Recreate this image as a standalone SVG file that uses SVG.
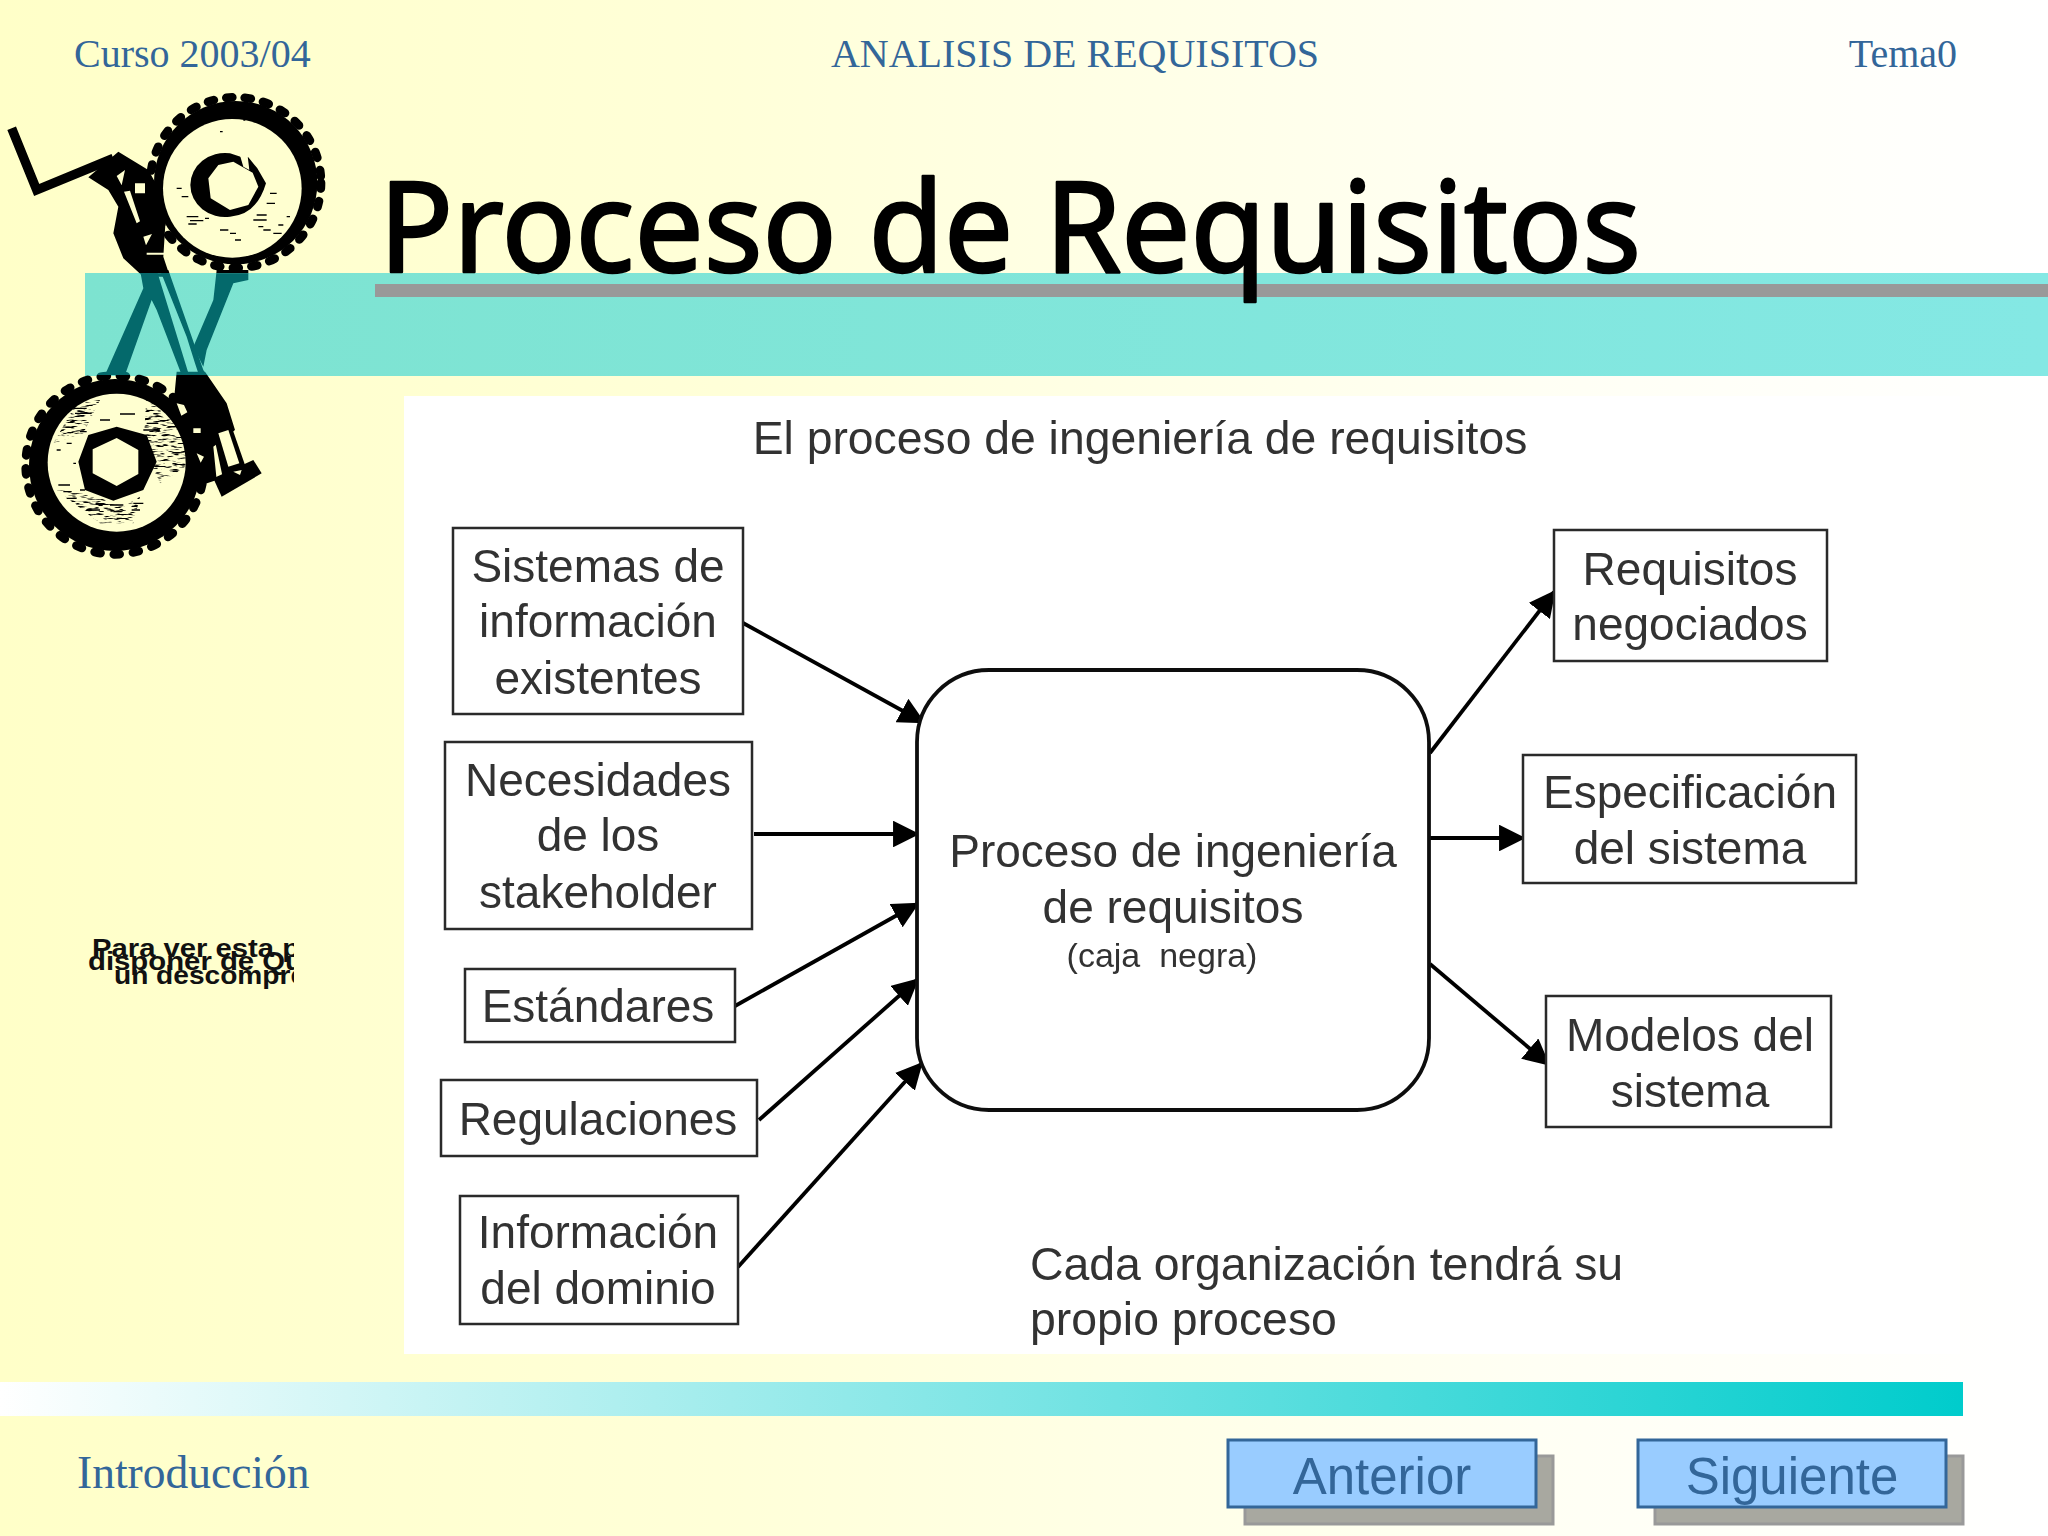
<svg xmlns="http://www.w3.org/2000/svg" width="2048" height="1536" viewBox="0 0 2048 1536">
<defs>
<linearGradient id="bg" x1="0" y1="0" x2="1" y2="0"><stop offset="0" stop-color="#ffffc8"/><stop offset=".35" stop-color="#ffffd8"/><stop offset=".75" stop-color="#fffff4"/><stop offset="1" stop-color="#ffffff"/></linearGradient>
<linearGradient id="band" x1="0" y1="0" x2="1" y2="0"><stop offset="0" stop-color="#7de3d0"/><stop offset="1" stop-color="#84e8e4"/></linearGradient>
<linearGradient id="foot" x1="0" y1="0" x2="1" y2="0"><stop offset="0" stop-color="#ffffff"/><stop offset="1" stop-color="#00cccc"/></linearGradient>
<marker id="ah" viewBox="0 0 10 10" refX="9" refY="5" markerWidth="7" markerHeight="7" orient="auto"><path d="M0 0L10 5L0 10Z" fill="#000"/></marker>
<filter id="soft" x="-2%" y="-2%" width="104%" height="104%"><feGaussianBlur stdDeviation="0.6"/></filter>
<filter id="speck" x="0" y="0" width="100%" height="100%"><feTurbulence type="fractalNoise" baseFrequency=".035 .16" numOctaves="2" seed="7"/><feColorMatrix values="0 0 0 0 0 0 0 0 0 0 0 0 0 0 0 6 0 0 0 -3.1"/><feComposite in2="SourceGraphic" operator="in"/></filter>
<clipPath id="inband"><rect x="0" y="610" width="1260" height="305"/></clipPath>
<clipPath id="outband"><path d="M0 0H1260V610H0ZM0 915H1260V1600H0Z"/></clipPath>
<clipPath id="qt"><rect x="80" y="930" width="214" height="70"/></clipPath>
<g id="blk">
<circle cx="707" cy="338" r="245" fill="currentColor"/>
<circle cx="707" cy="338" r="256" fill="none" stroke="currentColor" stroke-width="26" stroke-linecap="round" stroke-dasharray="18 38"/>
<circle cx="345" cy="1185" r="258" fill="currentColor"/>
<circle cx="345" cy="1185" r="268" fill="none" stroke="currentColor" stroke-width="26" stroke-linecap="round" stroke-dasharray="18 40"/>
<path fill="currentColor" d="M265 322L355 245L445 300L500 400L490 560L510 620L430 620L370 565L340 490L355 410L325 360Z"/>
<path fill="currentColor" d="M530 905L615 905L680 1000L705 1080L640 1130L650 1230L590 1250L570 1240L570 1100L520 1010Z"/>
<path fill="currentColor" d="M640 1225L760 1170L785 1210L665 1280Z"/>
<path fill="currentColor" d="M640 1090L695 1070L735 1185L670 1230Z"/>
<path fill="currentColor" d="M420 600L470 600L570 925L610 925L620 920L555 925L545 915L470 720L455 690L375 915L315 915L430 655Z"/>
<path fill="currentColor" d="M480 600L505 600L610 900L625 925L600 925L585 880L560 800Z"/>
<path fill="currentColor" d="M650 600L745 600L745 630L700 640L620 840L610 890L580 830L640 690Z"/>
<path d="M35 175L110 360L340 265" fill="none" stroke="currentColor" stroke-width="28"/>
</g>
<style>
.hd{font-family:"Liberation Serif",serif;fill:#336699;font-size:40px}
.bx{fill:#fff;stroke:#2a2a2a;stroke-width:2.5}
.t{font-family:"Liberation Sans",Arial,sans-serif;fill:#333;font-size:46px;text-anchor:middle}
.qt{font-family:"Liberation Sans",Arial,sans-serif;fill:#111;font-size:25px;font-weight:700}
.btnr{fill:#99ccff;stroke:#336699;stroke-width:3}
.sh{fill:#a8a8a0;stroke:#999;stroke-width:3}
.bt{font-family:"Liberation Sans",Arial,sans-serif;fill:#336699;font-size:51px;text-anchor:middle}
.cn{stroke:#000;stroke-width:3.8;fill:none;marker-end:url(#ah)}
</style>
</defs>
<rect width="2048" height="1536" fill="url(#bg)"/>
<g id="band-top">
<rect x="85" y="273" width="1963" height="103" fill="url(#band)"/>
<rect x="375" y="284" width="1673" height="13" fill="#999999"/>
</g>
<text class="hd" x="74" y="67">Curso 2003/04</text>
<text class="hd" x="1075" y="67" text-anchor="middle">ANALISIS DE REQUISITOS</text>
<text class="hd" x="1957" y="67" text-anchor="end">Tema0</text>
<text id="title" x="379" y="272" font-family="'Noto Sans',sans-serif" font-size="126" fill="#000" stroke="#000" stroke-width="2.5" stroke-linejoin="round" textLength="1262" lengthAdjust="spacingAndGlyphs">Proceso de Requisitos</text>

<g id="logo" transform="translate(0,70) scale(.33333)">
<use href="#blk" clip-path="url(#outband)" color="#000"/>
<use href="#blk" clip-path="url(#inband)" color="#04696b"/>
<circle cx="697" cy="355" r="208" fill="#ffffd0"/>
<circle cx="350" cy="1178" r="207" fill="#ffffd0"/>
<path d="M690 250A104 96 0 1 0 690 440Q770 435 798 340L772 295L745 262L726 262L690 250ZM700 275L758 308L775 350L745 405L690 420L632 385L625 325L655 285Z" fill="#000" fill-rule="evenodd"/>
<path d="M718 250L742 250L748 300L730 290Z" fill="#ffffd0"/>
<path d="M350 1070L440 1095L470 1175L430 1260L340 1292L255 1260L235 1175L265 1095ZM350 1104l65 36v72l-65 36-72-38v-72z" fill="#000" fill-rule="evenodd"/>
<path d="M375 300l-25 18 15 28zM372 365l38 95 10-6-30-92zM405 340h30v30h-30zM430 500l26-8-18 34zM440 548h55v6h-55z" fill="#ffffd0"/>
<path d="M655 1090L685 1080L718 1180L685 1190Z" fill="#ffffd0"/>
<path d="M530 1000l22 5 10 22-18 10zM580 1075h22v14h-22zM590 1150l22 10-10 18z" fill="#ffffd0"/>
<path d="M700 1205l25-5-5 15z" fill="#ffffd0"/>
<path d="M440 970A207 207 0 0 1 556 1190L480 1240L430 1130ZM160 1120L230 1000L300 990L250 1090ZM170 1260L260 1270L370 1310L420 1280L400 1360L300 1360Z" fill="#000" filter="url(#speck)"/>
<g stroke="#000" stroke-width="4" fill="none">
<path d="M560 440h35M570 452h40M565 462h25M770 435h30M760 450h40M775 470h15M790 480h22M810 370h20M800 400h25M530 355h15M545 380h20M660 480h25M690 490h18M705 510h18M820 490h25M835 465h15M660 185h8M730 150h6M860 440h10M615 445h12"/>
<path d="M220 1015h40M225 1030h50M360 1032h45M300 1050h30M440 1060h35M430 1080h50M170 1140h12M200 1120h15M240 1085h20M175 1245h35M190 1265h25M200 1285h30M270 1320h30M330 1305h40M340 1325h25M400 1300h30M395 1320h25M350 1345h15M240 1260h15M220 1180h8"/>
</g>
</g>

<g clip-path="url(#qt)" id="qt-placeholder">
<text class="qt" x="92" y="957" textLength="208" lengthAdjust="spacingAndGlyphs">Para ver esta p</text>
<text class="qt" x="88" y="970" textLength="215" lengthAdjust="spacingAndGlyphs">disponer de Qu</text>
<text class="qt" x="114" y="984" textLength="192" lengthAdjust="spacingAndGlyphs">un descompre</text>
</g>

<rect id="picture" x="404" y="396" width="1556" height="958" fill="#ffffff"/>
<text class="t" x="1140" y="454" style="font-size:46.3px" filter="url(#soft)">El proceso de ingeniería de requisitos</text>

<g id="connectors" filter="url(#soft)">
<path class="cn" d="M743 623L923 722"/>
<path class="cn" d="M754 834H917"/>
<path class="cn" d="M735 1006L917 904"/>
<path class="cn" d="M759 1120L917 980"/>
<path class="cn" d="M738 1267L921 1064"/>
<path class="cn" d="M1430 753L1554 592"/>
<path class="cn" d="M1430 838H1523"/>
<path class="cn" d="M1430 964L1548 1064"/>
</g>

<g filter="url(#soft)">
<g id="n1"><rect class="bx" x="453" y="528" width="290" height="186"/><text class="t" x="598" y="582">Sistemas de</text><text class="t" x="598" y="637">información</text><text class="t" x="598" y="694">existentes</text></g>
<g id="n2"><rect class="bx" x="445" y="742" width="307" height="187"/><text class="t" x="598" y="796">Necesidades</text><text class="t" x="598" y="851">de los</text><text class="t" x="598" y="908">stakeholder</text></g>
<g id="n3"><rect class="bx" x="465" y="969" width="270" height="73"/><text class="t" x="598" y="1022">Estándares</text></g>
<g id="n4"><rect class="bx" x="441" y="1080" width="316" height="76"/><text class="t" x="598" y="1135">Regulaciones</text></g>
<g id="n5"><rect class="bx" x="460" y="1196" width="278" height="128"/><text class="t" x="598" y="1248">Información</text><text class="t" x="598" y="1304">del dominio</text></g>
<g id="n6"><rect x="917" y="670" width="512" height="440" rx="72" fill="#fff" stroke="#111" stroke-width="3.8"/><text class="t" x="1173" y="867">Proceso de ingeniería</text><text class="t" x="1173" y="923">de requisitos</text><text class="t" x="1162" y="967" style="font-size:34px;white-space:pre">(caja  negra)</text></g>
<g id="n7"><rect class="bx" x="1554" y="530" width="273" height="131"/><text class="t" x="1690" y="585">Requisitos</text><text class="t" x="1690" y="640">negociados</text></g>
<g id="n8"><rect class="bx" x="1523" y="755" width="333" height="128"/><text class="t" x="1690" y="808">Especificación</text><text class="t" x="1690" y="864">del sistema</text></g>
<g id="n9"><rect class="bx" x="1546" y="996" width="285" height="131"/><text class="t" x="1690" y="1051">Modelos del</text><text class="t" x="1690" y="1107">sistema</text></g>
<text class="t" x="1030" y="1280" style="text-anchor:start;font-size:46.4px">Cada organización tendrá su</text>
<text class="t" x="1030" y="1335" style="text-anchor:start;font-size:46.4px">propio proceso</text>
</g>

<rect id="band-bottom" x="0" y="1382" width="1963" height="34" fill="url(#foot)"/>
<text class="hd" x="77" y="1488" style="font-size:45.5px">Introducción</text>
<g id="btn-anterior"><rect class="sh" x="1245" y="1456" width="308" height="68"/><rect class="btnr" x="1228" y="1440" width="308" height="67"/><text class="bt" x="1382" y="1494">Anterior</text></g>
<g id="btn-siguiente"><rect class="sh" x="1655" y="1456" width="308" height="68"/><rect class="btnr" x="1638" y="1440" width="308" height="67"/><text class="bt" x="1792" y="1494">Siguiente</text></g>
</svg>
